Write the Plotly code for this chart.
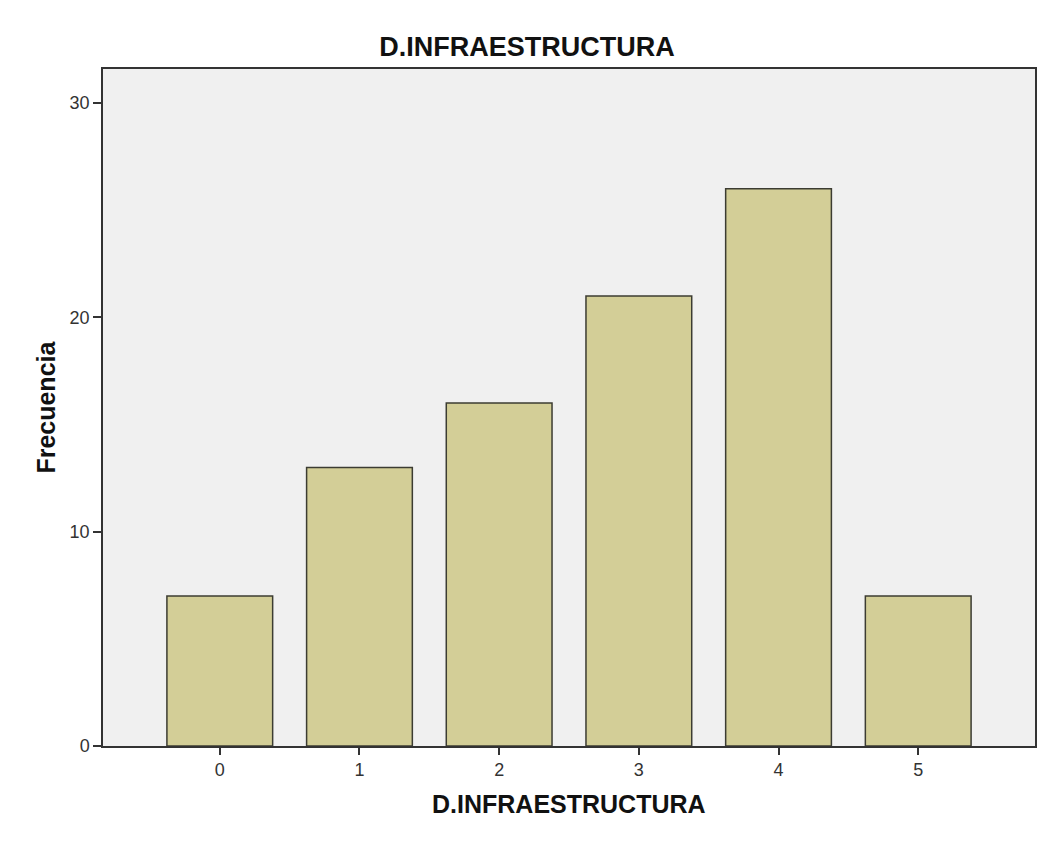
import plotly.graph_objects as go

categories = ["0", "1", "2", "3", "4", "5"]
frequencies = [7, 13, 16, 21, 26, 7]
y_ticks = [0, 10, 20, 30]
chart_title = "D.INFRAESTRUCTURA"
x_title = "D.INFRAESTRUCTURA"
y_title = "Frecuencia"

W, H = 1033, 830
L, R, T, B = 95, 4, 61, 92
plot_w = W - L - R

bold_font = "Arial, Liberation Sans, sans-serif"

fig = go.Figure()
fig.add_trace(go.Bar(
    x=[int(c) for c in categories],
    y=frequencies,
    width=0.757,
    marker=dict(color="#d3ce97", line=dict(color="#3c3c32", width=1.5)),
))

fig.update_layout(
    width=W, height=H,
    margin=dict(l=L, r=R, t=T, b=B),
    paper_bgcolor="white",
    plot_bgcolor="#f0f0f0",
    showlegend=False,
    title=dict(text="<b>" + chart_title + "</b>", x=519 / W, xref="container", xanchor="center",
               y=1 - 39 / H, yref="container", yanchor="middle",
               font=dict(family=bold_font, size=27, color="#111")),
    font=dict(family="Arial, Liberation Sans, sans-serif", size=18, color="#333"),
    annotations=[
        dict(text="<b>" + x_title + "</b>", xref="paper", yref="paper",
             x=0.5, xanchor="center", y=-(796 - (H - B)) / (H - T - B), yanchor="middle",
             showarrow=False, font=dict(family=bold_font, size=25, color="#111")),
        dict(text="<b>" + y_title + "</b>", xref="paper", yref="paper",
             x=(37 - L) / plot_w, xanchor="center", y=0.5, yanchor="middle",
             textangle=-90, showarrow=False,
             font=dict(family=bold_font, size=25, color="#111")),
    ],
)
fig.update_xaxes(
    range=[-0.836, 5.836],
    tickmode="array", tickvals=[int(c) for c in categories], ticktext=categories,
    ticks="outside", ticklen=7, tickcolor="#333", tickwidth=1.5,
    showline=True, linecolor="#333", linewidth=1.5, mirror=True,
    showgrid=False, zeroline=False,
)
fig.update_yaxes(
    range=[0, 31.59],
    tickmode="array", tickvals=y_ticks,
    ticks="outside", ticklen=8, tickcolor="#333", tickwidth=1.5,
    showline=True, linecolor="#333", linewidth=1.5, mirror=True,
    showgrid=False, zeroline=False,
)

fig.write_html("out.html")
